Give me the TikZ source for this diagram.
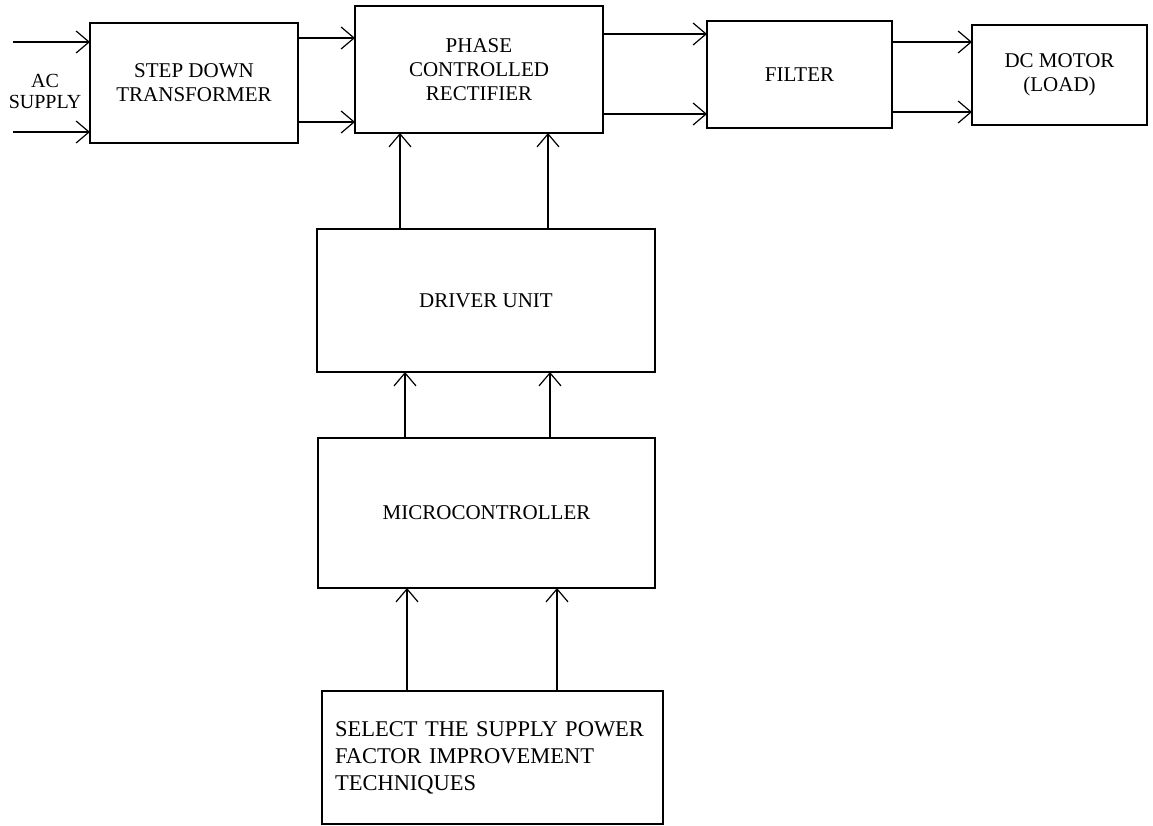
\documentclass[tikz,border=0pt]{standalone}
\usepackage{fontspec}
\setmainfont{Liberation Serif}
\usetikzlibrary{arrows.meta,positioning}

\tikzset{
    block/.style={draw, rectangle, line width=1.7pt, inner sep=0pt, outer sep=0pt,
        align=center, font=\fontsize{21}{24}\selectfont},
    flow/.style={line width=1.5pt, -{Straight Barb[length=13pt,width=22pt,line width=1.2pt]}}
}

\begin{document}
\begin{tikzpicture}[x=1pt,y=-1pt]
    \useasboundingbox (0,0) rectangle (1153,826);

    % top row of blocks
        \node[block, minimum width=208pt, minimum height=120pt] (trans) at (194,83) {STEP DOWN\\TRANSFORMER};
        \node[block, minimum width=248pt, minimum height=127pt] (rect) at (479,69.5) {PHASE\\CONTROLLED\\RECTIFIER};
        \node[block, minimum width=185pt, minimum height=107pt] (filt) at (799.5,74.5) {FILTER};
        \node[block, minimum width=175pt, minimum height=100pt] (motor) at (1059.5,75) {DC MOTOR\\(LOAD)};

    % control column
        \node[block, minimum width=338pt, minimum height=143pt] (drv) at (486,300.5) {DRIVER UNIT};
        \node[block, minimum width=337pt, minimum height=150pt] (mcu) at (486.5,513) {MICROCONTROLLER};
        \node[block, minimum width=341pt, minimum height=133pt, align=left, text width=315pt,
            font=\fontsize{22.5}{27}\selectfont] (select) at (492.5,757.5)
            {SELECT THE SUPPLY POWER\\FACTOR IMPROVEMENT\\TECHNIQUES};

    % supply input
        \node[font=\fontsize{20}{21}\selectfont, align=center] (acsup) at (45,91) {AC\\SUPPLY};
        \coordinate (acin1) at (13,42);
        \coordinate (acin2) at (13,132);
        \draw[flow] (acin1) -- (acin1 -| trans.west);
        \draw[flow] (acin2) -- (acin2 -| trans.west);

    % power path
        \draw[flow] ([yshift=45pt]trans.east) coordinate (t1) -- (t1 -| rect.west);
        \draw[flow] ([yshift=-39pt]trans.east) coordinate (t2) -- (t2 -| rect.west);
        \draw[flow] ([yshift=35.5pt]rect.east) coordinate (r1) -- (r1 -| filt.west);
        \draw[flow] ([yshift=-44.5pt]rect.east) coordinate (r2) -- (r2 -| filt.west);
        \draw[flow] ([yshift=32.5pt]filt.east) coordinate (f1) -- (f1 -| motor.west);
        \draw[flow] ([yshift=-37.5pt]filt.east) coordinate (f2) -- (f2 -| motor.west);

    % firing signals
        \draw[flow] ([xshift=-86pt]drv.north) coordinate (d1) -- (d1 |- rect.south);
        \draw[flow] ([xshift=62pt]drv.north) coordinate (d2) -- (d2 |- rect.south);
        \draw[flow] ([xshift=-81.5pt]mcu.north) coordinate (m1) -- (m1 |- drv.south);
        \draw[flow] ([xshift=63.5pt]mcu.north) coordinate (m2) -- (m2 |- drv.south);
        \draw[flow] ([xshift=-85.5pt]select.north) coordinate (s1) -- (s1 |- mcu.south);
        \draw[flow] ([xshift=64.5pt]select.north) coordinate (s2) -- (s2 |- mcu.south);

\end{tikzpicture}
\end{document}
